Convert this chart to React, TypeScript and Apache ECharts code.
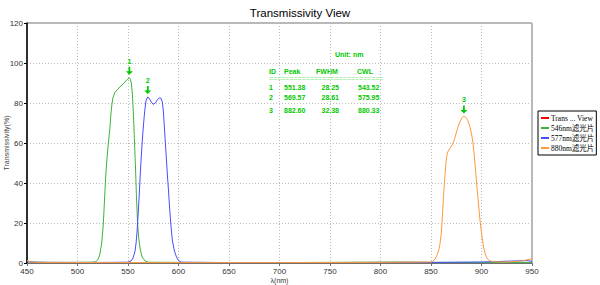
import React, { useEffect, useRef } from "react";
import * as echarts from "echarts";

const titleText = "Transmissivity View";
const seriesNames = ["Trans ... View", "546nm滤光片", "577nm滤光片", "880nm滤光片"];
const seriesColors = ["#ff0000", "#3cb43c", "#4b4bff", "#ff9a3c"];

const redData: number[][] = [];

const greenData: number[][] = [
  [450, 1.0], [455, 0.5], [470, 0.3], [500, 0.3], [515, 0.4], [518, 0.7], [520, 1.5], [522, 4],
  [524, 10], [525.5, 19], [527, 34], [528, 44], [529, 51], [530, 57], [531, 62], [532, 67],
  [533, 74], [534, 79], [535, 82.5], [537, 85.2], [540, 87], [543, 88.5], [546, 90], [549, 91.6],
  [551.4, 92.6], [552.4, 91.8], [553.4, 89.5], [554.4, 84], [555.4, 74], [556.4, 61], [557.4, 48],
  [558.4, 33], [559.4, 21], [560.5, 13], [562, 7], [564, 3], [567, 1], [570, 0.4], [600, 0.3],
  [700, 0.2], [820, 0.5], [850, 0.3], [950, 0.3],
];

const blueData: number[][] = [
  [450, 0.8], [456, 0.4], [480, 0.3], [530, 0.3], [550, 0.4], [553, 1], [555, 2.5], [557, 6],
  [558, 10], [559, 16], [560, 24], [561, 33], [562, 43], [563, 52], [564, 60], [565, 67],
  [566, 73], [567, 78], [568, 81.5], [569.6, 83], [571, 82.4], [573, 80.5], [575, 79.3],
  [577, 80], [579, 81.5], [581, 82.6], [582.6, 82.4], [584, 80.5], [585, 76], [586, 68],
  [587, 60], [588, 52], [589, 44], [590, 37], [591, 29], [592, 22], [593, 16], [594, 11],
  [596, 6], [598, 3], [600, 1.2], [603, 0.4], [650, 0.2], [850, 0.3], [900, 0.5], [945, 1.2], [950, 0.8],
];

const orangeData: number[][] = [
  [450, 1.2], [453, 0.6], [460, 0.3], [550, 0.2], [700, 0.2], [800, 0.3], [850, 0.5], [852, 1],
  [854, 2], [856, 4], [858, 7], [859, 10], [860, 14], [861, 21], [862, 30], [863, 38], [864, 45],
  [865, 51], [866, 54.5], [867, 56], [869, 57.5], [871, 59], [873, 61.5], [875, 65], [877, 68.5],
  [879, 71], [881, 72.8], [882.6, 73.3], [884, 73], [886, 71.8], [888, 69], [890, 65], [891, 62],
  [892, 58], [893, 53], [894, 47], [895, 41], [896, 35], [897, 30], [898, 24], [899, 19],
  [900, 15], [902, 8], [904, 4], [906, 2], [908, 1.2], [912, 0.6], [925, 0.5], [940, 1],
  [945, 1.6], [950, 2],
];

const peakIds = ["1", "2", "3"];
const peakWavelengths = [551.38, 569.57, 882.6];
const peakValues = [92.6, 83, 73.3];

const tableHeader = ["ID", "Peak", "FWHM", "CWL"];
const tableIds = ["1", "2", "3"];
const tablePeaks = ["551.38", "569.57", "882.60"];
const tableFwhm = ["28.25", "28.61", "32.38"];
const tableCwl = ["543.52", "575.95", "880.33"];

const GREEN = "#00c800";

export default function App() {
  const ref = useRef<HTMLDivElement>(null);
  useEffect(() => {
    document.body.style.margin = "0";
    if (!ref.current) return;
    const chart = echarts.init(ref.current, null, { renderer: "svg" });

    const txt = (x: number, y: number, text: string, extra: any = {}) => ({
      type: "text",
      x,
      y,
      style: {
        text,
        fill: GREEN,
        font: "bold 7px 'Liberation Sans', Arial, sans-serif",
        textVerticalAlign: "middle",
        ...extra,
      },
    });

    const graphics: any[] = [];
    graphics.push(txt(335, 54, "Unit: nm"));
    const colX = [269, 284, 316, 357];
    tableHeader.forEach((h, i) => graphics.push(txt(colX[i], 71, h)));
    graphics.push(
      txt(269, 78.5, "=".repeat(28), { fill: "#7ee07e", font: "7px 'Liberation Sans', Arial, sans-serif" })
    );
    const rowY = [87.5, 97, 110];
    const valX = [269, 284, 321.5, 358];
    tableIds.forEach((id, r) => {
      graphics.push(txt(valX[0], rowY[r], id));
      graphics.push(txt(valX[1], rowY[r], tablePeaks[r]));
      graphics.push(txt(valX[2], rowY[r], tableFwhm[r]));
      graphics.push(txt(valX[3], rowY[r], tableCwl[r]));
    });

    const arrow = "path://M3,0 L5,0 L5,4.5 L8,4.5 L4,8 L0,4.5 L3,4.5 Z";
    const mp = (i: number) => ({
      symbol: arrow,
      symbolSize: [7, 8],
      symbolOffset: [0, -7],
      itemStyle: { color: GREEN },
      label: {
        show: true,
        position: "top",
        distance: 2,
        color: GREEN,
        fontSize: 7,
        fontWeight: "bold",
        fontFamily: "'Liberation Sans', Arial, sans-serif",
        formatter: peakIds[i],
      },
      data: [{ coord: [peakWavelengths[i], peakValues[i]] }],
    });

    const datas = [redData, greenData, blueData, orangeData];
    const series = seriesNames.map((name, i) => ({
      name,
      type: "line",
      data: datas[i],
      showSymbol: false,
      symbol: "none",
      lineStyle: { width: 1, color: seriesColors[i] },
      itemStyle: { color: seriesColors[i] },
      z: 2 + i,
      markPoint: i === 1 ? mp(0) : i === 2 ? mp(1) : i === 3 ? mp(2) : undefined,
    }));

    chart.setOption({
      animation: false,
      backgroundColor: "#ffffff",
      title: {
        text: titleText,
        left: "center",
        top: 2,
        textStyle: {
          fontSize: 11.5,
          fontWeight: "normal",
          color: "#000",
          fontFamily: "'Liberation Sans', Arial, sans-serif",
        },
      },
      grid: {
        left: 27,
        right: 68,
        top: 23,
        bottom: 22,
        containLabel: false,
        outerBoundsMode: "none",
        show: true,
        borderColor: "#707070",
        borderWidth: 1,
      },
      legend: {
        orient: "vertical",
        left: 538,
        top: 111,
        icon: "rect",
        itemWidth: 8,
        itemHeight: 2,
        itemGap: 0,
        padding: [2, 2, 2, 3],
        borderColor: "#000",
        borderWidth: 1,
        backgroundColor: "#fff",
        data: seriesNames,
        textStyle: {
          fontSize: 7.5,
          lineHeight: 10,
          color: "#000",
          padding: [0, 0, 0, -3],
          fontFamily: "'Liberation Serif', 'Noto Sans CJK SC', serif",
        },
      },
      xAxis: {
        type: "value",
        min: 450,
        max: 950,
        interval: 50,
        name: "λ(nm)",
        nameLocation: "middle",
        nameGap: 14,
        nameMoveOverlap: false,
        nameTextStyle: { fontSize: 7, color: "#333", fontFamily: "'Liberation Sans', Arial, sans-serif" },
        axisLine: { show: true, lineStyle: { color: "#707070" } },
        axisTick: { show: true, length: 3, lineStyle: { color: "#707070" } },
        axisLabel: { fontSize: 8, color: "#333", margin: 4, fontFamily: "'Liberation Sans', Arial, sans-serif" },
        splitLine: { show: true, lineStyle: { color: "#bcbcbc", type: [1, 2], width: 1 } },
      },
      yAxis: {
        type: "value",
        min: 0,
        max: 120,
        interval: 20,
        name: "Transmissivity(%)",
        nameLocation: "middle",
        nameGap: 17,
        nameMoveOverlap: false,
        nameTextStyle: { fontSize: 7, color: "#444", fontFamily: "'Liberation Sans', Arial, sans-serif" },
        axisLine: { show: true, lineStyle: { color: "#000", width: 1.5 } },
        axisTick: { show: true, length: 3, lineStyle: { color: "#000" } },
        axisLabel: { fontSize: 8, color: "#333", margin: 4, fontFamily: "'Liberation Sans', Arial, sans-serif" },
        splitLine: { show: true, lineStyle: { color: "#bcbcbc", type: [1, 2], width: 1 } },
      },
      series,
      graphic: graphics,
    });
    return () => chart.dispose();
  }, []);
  return <div ref={ref} style={{ width: 600, height: 285 }} />;
}
